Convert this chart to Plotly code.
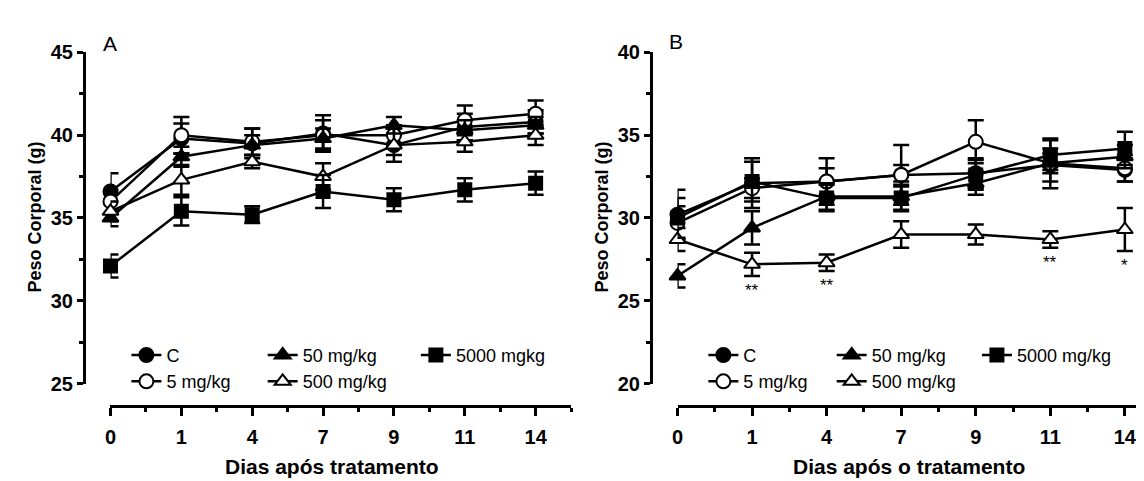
import plotly.graph_objects as go

W, H = 1144, 481

days = ["0", "1", "4", "7", "9", "11", "14"]
series_names_A = ["C", "5 mg/kg", "50 mg/kg", "500 mg/kg", "5000 mgkg"]
series_names_B = ["C", "5 mg/kg", "50 mg/kg", "500 mg/kg", "5000 mg/kg"]

# Panel A means / SEM
A_C = [36.6, 39.8, 39.5, 40.1, 39.4, 40.5, 40.8]
A_5 = [36.0, 40.0, 39.6, 40.0, 40.0, 40.9, 41.3]
A_50 = [35.0, 38.7, 39.4, 39.8, 40.6, 40.3, 40.6]
A_500 = [35.4, 37.3, 38.4, 37.5, 39.4, 39.6, 40.0]
A_5000 = [32.1, 35.4, 35.2, 36.6, 36.1, 36.7, 37.1]
A_C_err = [1.1, 0.9, 0.9, 1.1, 0.6, 0.8, 0.7]
A_5_err = [0.7, 1.1, 0.8, 0.9, 0.6, 0.9, 0.8]
A_50_err = [0.5, 0.6, 0.6, 0.6, 0.5, 0.6, 0.5]
A_500_err = [0.6, 0.9, 0.4, 0.8, 1.0, 0.6, 0.6]
A_5000_err = [0.7, 0.85, 0.5, 1.0, 0.7, 0.7, 0.7]

# Panel B means / SEM
B_C = [30.2, 32.1, 32.2, 32.6, 32.7, 33.2, 32.9]
B_5 = [29.7, 31.8, 32.2, 32.6, 34.6, 33.3, 33.0]
B_50 = [26.5, 29.4, 31.3, 31.3, 32.1, 33.3, 33.7]
B_500 = [28.7, 27.2, 27.3, 29.0, 29.0, 28.7, 29.3]
B_5000 = [30.0, 32.2, 31.2, 31.2, 32.6, 33.8, 34.2]
B_C_err = [1.5, 1.5, 1.4, 1.8, 0.9, 1.0, 0.7]
B_5_err = [1.0, 0.6, 0.8, 0.6, 1.3, 1.5, 0.8]
B_50_err = [0.7, 1.0, 0.8, 0.9, 0.7, 0.6, 0.7]
B_500_err = [0.7, 0.7, 0.5, 0.8, 0.6, 0.5, 1.3]
B_5000_err = [1.2, 1.2, 0.8, 0.7, 0.9, 0.9, 1.0]

# significance marks for 500 mg/kg in panel B
sig_B = ["", "**", "**", "", "", "**", "*"]

FONT = "Liberation Sans, Arial, sans-serif"
idx = list(range(len(days)))

styles = [
    dict(symbol="circle", size=14, color="black"),
    dict(symbol="circle", size=14, color="white"),
    dict(symbol="triangle-up", size=14, color="black"),
    dict(symbol="triangle-up", size=14, color="white"),
    dict(symbol="square", size=13, color="black"),
]

fig = go.Figure()

def add_panel(means, errs, names, xa, ya, legends):
    for m, e, n, st, lg in zip(means, errs, names, styles, legends):
        fig.add_trace(go.Scatter(
            x=idx, y=m, name=n, mode="lines+markers",
            xaxis=xa, yaxis=ya, legend=lg, cliponaxis=False,
            line=dict(color="black", width=2.5),
            marker=dict(symbol=st["symbol"], size=st["size"], color=st["color"],
                        line=dict(color="black", width=2)),
            error_y=dict(type="data", array=e, visible=True, color="black",
                         thickness=2.5, width=8),
        ))

legA = ["legend", "legend", "legend2", "legend2", "legend3"]
legB = ["legend4", "legend4", "legend5", "legend5", "legend6"]
add_panel([A_C, A_5, A_50, A_500, A_5000],
          [A_C_err, A_5_err, A_50_err, A_500_err, A_5000_err],
          series_names_A, "x", "y", legA)
add_panel([B_C, B_5, B_50, B_500, B_5000],
          [B_C_err, B_5_err, B_50_err, B_500_err, B_5000_err],
          series_names_B, "x2", "y2", legB)

def px_x(p):
    return p / W

def px_y(p):
    return 1 - p / H

ydom = [px_y(382), px_y(35)]
xpos_axis = px_y(406)

tickfont = dict(family=FONT, size=20, color="black", weight="bold")
xaxis_common = dict(
    tickmode="array", tickvals=idx, ticktext=days, showgrid=False, zeroline=False,
    showline=True, linecolor="black", linewidth=2.5, ticks="outside", ticklen=8,
    tickwidth=2.5, tickcolor="black", tickfont=tickfont, anchor="free",
    position=xpos_axis, ticklabelstandoff=4,
    minor=dict(dtick=0.5, tick0=0, ticks="outside", ticklen=4, tickwidth=2.5,
               tickcolor="black", showgrid=False),
)
yaxis_common = dict(
    showgrid=False, zeroline=False, showline=True, linecolor="black", linewidth=2.5,
    ticks="outside", ticklen=6, tickwidth=2.5, tickcolor="black", tickfont=tickfont,
    dtick=5, anchor="free", domain=ydom,
    minor=dict(dtick=2.5, ticks="outside", ticklen=4, tickwidth=2.5,
               tickcolor="black", showgrid=False),
)

fig.update_layout(
    width=W, height=H, margin=dict(l=0, r=0, t=0, b=0),
    paper_bgcolor="white", plot_bgcolor="white",
    font=dict(family=FONT, color="black"),
    xaxis=dict(xaxis_common, domain=[px_x(97), px_x(560)], range=[0, 6.5]),
    yaxis=dict(yaxis_common, range=[25, 45], position=px_x(70)),
    xaxis2=dict(xaxis_common, domain=[px_x(667), 1.0], range=[0, 6.364]),
    yaxis2=dict(yaxis_common, range=[20, 40], position=px_x(640)),
    showlegend=True,
)

leg_common = dict(orientation="v", bgcolor="rgba(0,0,0,0)", borderwidth=0,
                  font=dict(family=FONT, size=18, color="black"),
                  xanchor="left", yanchor="top", tracegroupgap=0, itemwidth=30)
leg_top = px_y(333)
fig.update_layout(
    legend=dict(leg_common, x=px_x(113), y=leg_top),
    legend2=dict(leg_common, x=px_x(250), y=leg_top),
    legend3=dict(leg_common, x=px_x(404), y=leg_top),
    legend4=dict(leg_common, x=px_x(693), y=leg_top),
    legend5=dict(leg_common, x=px_x(822), y=leg_top),
    legend6=dict(leg_common, x=px_x(968), y=leg_top),
)

ann = []
# panel letters
ann.append(dict(text="A", x=px_x(87), y=px_y(12), xref="paper", yref="paper",
                xanchor="left", yanchor="top", showarrow=False,
                font=dict(family=FONT, size=21, color="black")))
ann.append(dict(text="B", x=px_x(656), y=px_y(9), xref="paper", yref="paper",
                xanchor="left", yanchor="top", showarrow=False,
                font=dict(family=FONT, size=21, color="black")))
# axis titles
for xc, txt in [(320, "Dias após tratamento"), (900, "Dias após o tratamento")]:
    ann.append(dict(text=txt, x=px_x(xc), y=px_y(469), xref="paper", yref="paper",
                    xanchor="center", yanchor="middle", showarrow=False,
                    font=dict(family=FONT, size=21, color="black", weight="bold")))
for xc in [21, 591]:
    ann.append(dict(text="Peso Corporal (g)", x=px_x(xc), y=px_y(207), xref="paper",
                    yref="paper", xanchor="center", yanchor="middle", textangle=-90,
                    showarrow=False,
                    font=dict(family=FONT, size=18, color="black", weight="bold")))
# significance asterisks below 500 mg/kg bars in panel B
for i, s in enumerate(sig_B):
    if s:
        ann.append(dict(text=s, x=idx[i], y=B_500[i] - B_500_err[i], xref="x2", yref="y2",
                        xanchor="center", yanchor="top", yshift=-3, showarrow=False,
                        font=dict(family=FONT, size=17, color="black")))
fig.update_layout(annotations=ann)

fig.write_html("out.html")
